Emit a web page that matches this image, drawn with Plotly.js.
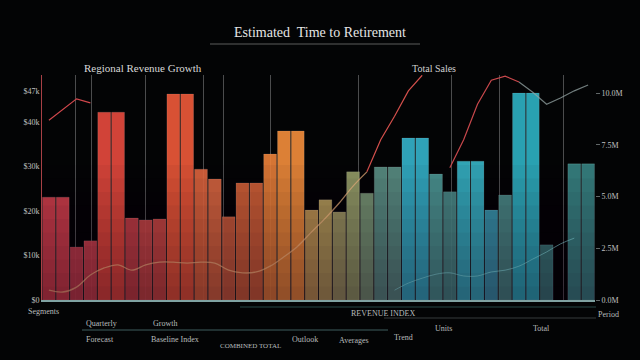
<!DOCTYPE html>
<html><head><meta charset="utf-8">
<script src="https://cdn.plot.ly/plotly-3.0.1.min.js"></script>
<style>html,body{margin:0;padding:0;background:#030405;}#chart{width:640px;height:360px;}</style>
</head><body><div id="chart"></div>
<script>
// ---- data ----
const periods = [0,1,2,3,4,5,6,7,8,9,10,11,12,13,14,15,16,17,18,19,20,21,22,23,24,25,26,27,28,29,30,31,32,33,34,35,36,37,38,39];
const barValues = [23.1,23.1,11.9,13.3,42.2,42.2,18.4,18.0,18.2,46.3,46.3,29.4,27.2,18.7,26.3,26.3,32.8,38.0,38.0,20.2,22.5,19.8,28.8,24.0,29.9,29.9,36.4,36.4,28.3,24.3,31.2,31.2,20.2,23.6,46.5,46.5,12.4,null,30.6,30.6];
const redLineA = [40.4,42.7,45.2,44.3,null,null,null,null,null,null,null,null,null,null,null,null,null,null,null,null,null,null,null,null,null,null,null,null,null,null,null,null,null,null,null,null,null,null,null,null];
const redLineB = [null,null,null,null,null,null,null,null,null,null,null,null,null,null,null,null,null,null,null,null,null,null,null,28.8,36.0,41.3,47.0,50.5,null,null,null,null,null,null,null,null,null,null,null,null];
const redLineC = [null,null,null,null,null,null,null,null,null,null,null,null,null,null,null,null,null,null,null,29.7,null,null,null,null,null,null,null,null,null,29.7,36.0,44.0,49.4,50.3,49.0,null,null,null,null,null];
const greyLine = [null,null,null,null,null,null,null,null,null,null,null,null,null,null,null,null,null,null,null,null,null,null,null,null,null,null,null,null,null,null,null,null,null,null,49.0,46.7,44.0,45.4,47.0,48.3];
const orangeCurve = [2.2,1.8,2.9,5.6,7.2,7.9,6.7,7.9,8.5,8.5,8.3,8.5,8.3,6.7,6.1,6.3,7.6,9.7,12.1,15.3,18.4,21.8,25.6,28.8,null,null,null,null,null,null,null,null,null,null,null,null,null,null,null,null];
const cyanLine = [null,null,null,null,null,null,null,null,null,null,null,null,null,null,null,null,null,null,null,null,null,null,null,null,null,2.2,3.8,4.9,5.8,6.1,5.4,5.4,6.3,6.7,7.6,9.2,10.8,12.6,13.9,null];
const leftTickVals = [0,10,20,30,40,47];
const leftTickText = ['$0','$10k','$20k','$30k','$40k','$47k'];
const rightTickVals = [0,1,2,3,4];
const rightTickText = ['0.0M','2.5M','5.0M','7.5M','10.0M'];
const chartTitle = 'Estimated  Time to Retirement';
const subtitleLeft = 'Regional Revenue Growth';
const subtitleRight = 'Total Sales';
redLineC[19] = null;

// ---- styles ----
const barColors = ['#d8434c','#d8434c','#c9404c','#d0444c','#e84a3e','#e84a3e','#cc4448','#cf4a48','#d24c46','#f05a3a','#f05a3a','#e4683f','#e06a42','#d2603e','#d8643a','#d8643a','#ec823a','#f48e3c','#f48e3c','#c49a55','#b8a05c','#a09a64','#98a26a','#7a9a78','#5c9488','#5c9488','#34b4cc','#34b4cc','#4e9c98','#4a908c','#36b6c8','#36b6c8','#3a9eb4','#4a8e8a','#2eb2c4','#2eb2c4','#3a7e7c','#3a7e7c','#3a8a88','#3a8a88'];

const traces = [
  {type:'bar', x:periods, y:barValues, marker:{color:barColors, opacity:0.9, line:{color:'rgba(255,255,255,0.12)', width:1}}, hoverinfo:'skip'},
  {type:'scatter', mode:'lines', x:periods, y:orangeCurve, line:{color:'rgba(245,185,130,0.7)', width:1.3, shape:'spline'}},
  {type:'scatter', mode:'lines', x:periods, y:cyanLine, line:{color:'rgba(140,235,235,0.6)', width:1, shape:'spline'}},
  {type:'scatter', mode:'lines', x:periods, y:redLineA, line:{color:'#d0474c', width:1.2}},
  {type:'scatter', mode:'lines', x:periods, y:redLineB, line:{color:'#d4504c', width:1.2}},
  {type:'scatter', mode:'lines', x:periods, y:redLineC, line:{color:'#c8484c', width:1.2}},
  {type:'scatter', mode:'lines', x:periods, y:greyLine, line:{color:'rgba(150,165,165,0.75)', width:1.2}},
  {type:'scatter', mode:'lines', x:[0], y:[0], yaxis:'y2', line:{width:0}, hoverinfo:'skip'}
];

const txt = (text,x,y,size,anchor,color)=>({text:text,x:x,y:y,xref:'paper',yref:'paper',xanchor:anchor||'left',yanchor:'middle',showarrow:false,font:{family:'Liberation Serif, DejaVu Serif, serif',size:size||8,color:color||'#b8bcbc'}});
// paper conversion: plot spans x 42..595, y 300..75
const px = v => (v-42)/553;
const py = v => (300-v)/225;

const shapes = [];
for (let i=0;i<10;i++){
  shapes.push({type:'rect', xref:'paper', yref:'paper', x0:0, x1:1, y0:0, y1:0.06*(i+1), fillcolor:'rgba(25,10,30,0.045)', line:{width:0}, layer:'above'});
}
shapes.push(
  {type:'line', xref:'paper', yref:'paper', x0:px(210), x1:px(420), y0:py(44), y1:py(44), line:{color:'rgba(200,200,200,0.45)', width:1}},
  {type:'line', xref:'paper', yref:'paper', x0:px(82), x1:px(388), y0:py(330), y1:py(330), line:{color:'rgba(110,170,170,0.55)', width:1}},
  {type:'line', xref:'paper', yref:'paper', x0:px(240), x1:px(596), y0:py(307), y1:py(307), line:{color:'rgba(80,150,150,0.45)', width:1}},
  {type:'line', xref:'paper', yref:'paper', x0:px(384), x1:px(596), y0:py(318), y1:py(318), line:{color:'rgba(150,160,160,0.35)', width:1}}
);

const layout = {
  width:640, height:360,
  margin:{l:42, r:45, t:75, b:60},
  paper_bgcolor:'#030405', plot_bgcolor:'rgba(0,0,0,0)',
  showlegend:false, bargap:0.07,
  title:{text:chartTitle, x:0.5, xanchor:'center', y:0.91, yanchor:'middle', font:{family:'Liberation Serif, serif', size:14, color:'#e6e6e6'}},
  xaxis:{range:[-0.5,39.5], showticklabels:false, ticks:'', zeroline:false,
    tickvals:[1.9,3.1,7,11.2,12.6,16,22.4,29.1,32.6,37.2], showgrid:true, gridcolor:'rgba(185,185,185,0.4)', gridwidth:1,
    showline:true, linecolor:'rgba(170,215,215,0.75)', linewidth:1.5},
  yaxis:{range:[0,50.56], tickvals:leftTickVals, ticktext:leftTickText, showgrid:false, zeroline:false,
    showline:true, linecolor:'rgba(210,80,85,0.8)', linewidth:1, ticks:'',
    tickfont:{family:'Liberation Serif, serif', size:8, color:'#c0c0c0'}},
  yaxis2:{overlaying:'y', side:'right', range:[0,4.348], tickvals:rightTickVals, ticktext:rightTickText, showgrid:false, zeroline:false, ticks:'outside', ticklen:4, tickcolor:'rgba(160,170,170,0.6)',
    tickfont:{family:'Liberation Serif, serif', size:8, color:'#c0c0c0'}},
  shapes:shapes,
  annotations:[
    txt(subtitleLeft, px(82), py(68), 11, 'left', '#d8d8d8'),
    txt(subtitleRight, px(410), py(68), 10, 'left', '#d0d0d0'),
    txt('Segments', px(26), py(311), 8),
    txt('Quarterly', px(84), py(323), 8),
    txt('Growth', px(151), py(323), 8),
    txt('Forecast', px(84), py(339), 8),
    txt('Baseline Index', px(149), py(339), 8),
    txt('COMBINED TOTAL', px(218), py(346), 7),
    txt('Outlook', px(290), py(339), 8),
    txt('Averages', px(337), py(340), 8),
    txt('Trend', px(392), py(337), 8),
    txt('REVENUE INDEX', px(349), py(313), 8),
    txt('Units', px(433), py(328), 8),
    txt('Total', px(531), py(328), 8),
    txt('Period', px(596), py(314), 8)
  ]
};
Plotly.newPlot('chart', traces, layout, {displayModeBar:false, staticPlot:true});
</script></body></html>
